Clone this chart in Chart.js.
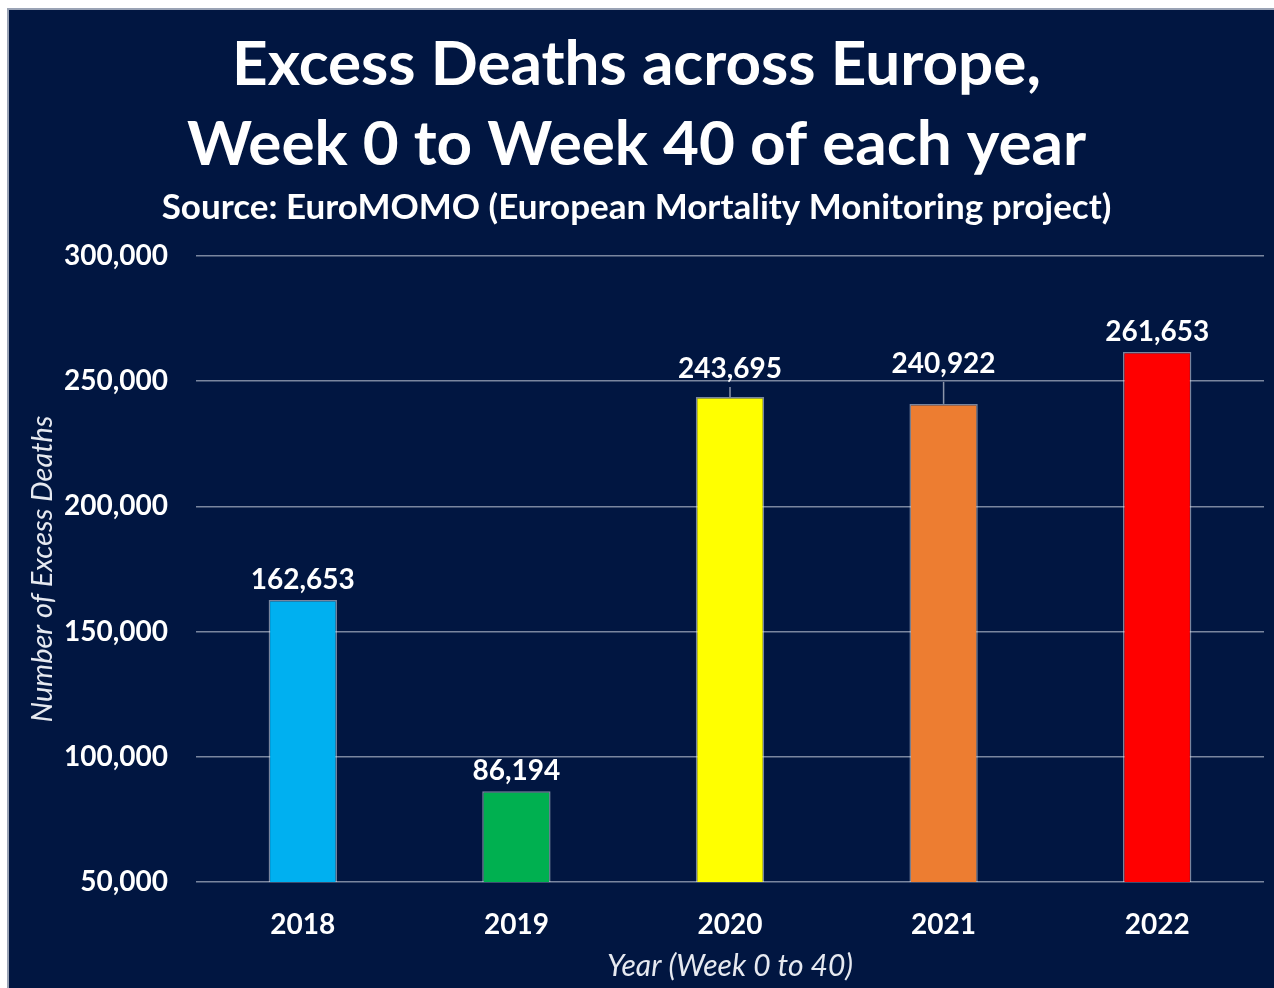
<!DOCTYPE html>
<html lang="en">
<head>
  <meta charset="UTF-8" />
  <title>Excess Deaths across Europe</title>
  <script src="https://cdn.jsdelivr.net/npm/chart.js"></script>
  <style>
    html, body { margin: 0; padding: 0; background: #fff; overflow: hidden; }
    #frame {
      position: absolute; left: 7px; top: 8px;
      width: 1267px; height: 980px; box-sizing: border-box;
      border-left: 2px solid #9aa3b5; border-top: 2px solid #9aa3b5;
      background: #011641;
    }
    #frame canvas { display: block; }
  </style>
</head>
<body>
  <div id="frame"><canvas id="excessChart"></canvas></div>

  <script>
    const years = ['2018', '2019', '2020', '2021', '2022'];
    const excessDeaths = [162653, 86194, 243695, 240922, 261653];
    const yTicks = [50000, 100000, 150000, 200000, 250000, 300000];

    const barColors = ['#00b0f0', '#00b050', '#ffff00', '#ed7d31', '#ff0000'];
    // extra lift for labels that were dragged up in the original (leader lines)
    const labelLift = [0, 0, 8, 20, 0];
    const FONT = 'Lato, "Open Sans", sans-serif';

    const valueLabels = {
      id: 'valueLabels',
      afterDatasetsDraw(chart) {
        const ctx = chart.ctx;
        const meta = chart.getDatasetMeta(0);
        ctx.save();
        ctx.font = 'bold 28px ' + FONT;
        ctx.fillStyle = '#ffffff';
        ctx.textAlign = 'center';
        ctx.textBaseline = 'middle';
        meta.data.forEach((bar, i) => {
          const ly = bar.y - 20 - labelLift[i];
          if (labelLift[i] > 0) {
            ctx.strokeStyle = '#8c96aa';
            ctx.lineWidth = 1.5;
            ctx.beginPath();
            ctx.moveTo(bar.x, ly + 18);
            ctx.lineTo(bar.x, bar.y);
            ctx.stroke();
          }
          ctx.fillText(excessDeaths[i].toLocaleString('en-US'), bar.x, ly);
        });
        ctx.restore();
      }
    };

    Chart.defaults.font.family = FONT;
    Chart.defaults.color = '#ffffff';

    new Chart(document.getElementById('excessChart'), {
      type: 'bar',
      data: {
        labels: years,
        datasets: [{
          data: excessDeaths,
          backgroundColor: barColors,
          borderColor: 'rgba(220,225,235,0.55)',
          borderWidth: 1.5,
          categoryPercentage: 1,
          barPercentage: 0.32
        }]
      },
      options: {
        responsive: true,
        maintainAspectRatio: false,
        animation: false,
        layout: { padding: { left: 0, right: 10, bottom: 4, top: 0 } },
        plugins: {
          legend: { display: false },
          tooltip: { enabled: false },
          title: {
            display: true,
            text: ['Excess Deaths across Europe,', 'Week 0 to Week 40 of each year'],
            color: '#ffffff',
            font: { size: 62, weight: 'bold', lineHeight: 1.29 },
            padding: { top: 15, bottom: 2 }
          },
          subtitle: {
            display: true,
            text: 'Source: EuroMOMO (European Mortality Monitoring project)',
            color: '#ffffff',
            font: { size: 35, weight: 'bold', lineHeight: 1.2 },
            padding: { top: 0, bottom: 27 }
          }
        },
        scales: {
          x: {
            afterFit(scale) { scale.height = 102; },
            grid: { display: false, drawTicks: false },
            border: { display: false },
            ticks: { color: '#ffffff', font: { size: 28, weight: 'bold' }, padding: 26 },
            title: {
              display: true,
              text: 'Year (Week 0 to 40)',
              color: '#e6e9f0',
              font: { size: 30, style: 'italic' },
              padding: { top: 2, bottom: 0 }
            }
          },
          y: {
            min: 50000,
            max: 300000,
            afterBuildTicks(scale) {
              scale.ticks = yTicks.map(v => ({ value: v }));
            },
            afterFit(scale) { scale.width = 187; },
            grid: { color: '#7a869f', lineWidth: 1.5, drawTicks: false },
            border: { display: false },
            ticks: {
              color: '#ffffff',
              font: { size: 28, weight: 'bold' },
              padding: 28,
              callback: v => v.toLocaleString('en-US')
            },
            title: {
              display: true,
              text: 'Number of Excess Deaths',
              color: '#e6e9f0',
              font: { size: 29, style: 'italic' },
              padding: { top: 16, bottom: 0 }
            }
          }
        }
      },
      plugins: [valueLabels]
    });
  </script>
</body>
</html>
